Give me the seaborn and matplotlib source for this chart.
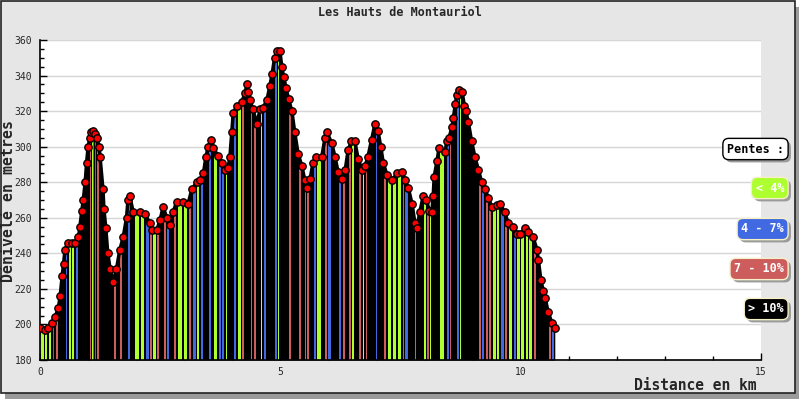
import numpy as np
import pandas as pd
import matplotlib
matplotlib.use('Agg')
import matplotlib.pyplot as plt
import matplotlib.patheffects as pe
from matplotlib.patches import Rectangle
from matplotlib.ticker import MultipleLocator
import seaborn as sns

# profil (km, metres)
distance_km = [
    0.00, 0.10, 0.17, 0.25, 0.31, 0.38, 0.42, 0.46, 0.49, 0.52, 0.58, 0.66, 0.73, 0.80,
    0.83, 0.87, 0.90, 0.94, 0.97, 1.00, 1.04, 1.07, 1.10, 1.14, 1.18, 1.23, 1.25, 1.31,
    1.33, 1.37, 1.41, 1.46, 1.52, 1.59, 1.66, 1.73, 1.80, 1.83, 1.87, 1.94, 2.08, 2.18,
    2.29, 2.33, 2.43, 2.50, 2.56, 2.64, 2.70, 2.77, 2.84, 2.98, 3.08, 3.16, 3.26, 3.33,
    3.40, 3.45, 3.50, 3.56, 3.60, 3.71, 3.78, 3.85, 3.91, 3.95, 3.99, 4.02, 4.10, 4.20,
    4.26, 4.31, 4.33, 4.37, 4.43, 4.51, 4.58, 4.64, 4.72, 4.78, 4.83, 4.88, 4.94, 4.99,
    5.03, 5.07, 5.12, 5.17, 5.24, 5.30, 5.37, 5.45, 5.51, 5.55, 5.62, 5.68, 5.75, 5.86,
    5.93, 5.97, 6.07, 6.14, 6.20, 6.28, 6.35, 6.41, 6.48, 6.55, 6.62, 6.70, 6.76, 6.82,
    6.90, 6.97, 7.03, 7.09, 7.14, 7.22, 7.32, 7.43, 7.53, 7.59, 7.66, 7.74, 7.80, 7.84,
    7.90, 7.97, 8.04, 8.10, 8.15, 8.18, 8.20, 8.26, 8.30, 8.43, 8.46, 8.51, 8.57, 8.60,
    8.64, 8.67, 8.72, 8.78, 8.83, 8.86, 8.91, 8.98, 9.05, 9.12, 9.19, 9.26, 9.33, 9.40,
    9.50, 9.57, 9.67, 9.74, 9.85, 9.92, 9.99, 10.09, 10.16, 10.26, 10.34, 10.37, 10.42,
    10.47, 10.51, 10.57, 10.65, 10.71,
]
elevation_m = [
    198, 197, 198, 201, 204, 209, 216, 227, 234, 242, 246, 246, 246, 249,
    255, 264, 270, 280, 291, 300, 305, 308, 309, 307, 305, 300, 294, 276,
    265, 254, 240, 231, 224, 231, 242, 249, 260, 270, 272, 263, 263, 262,
    257, 253, 253, 259, 266, 260, 256, 263, 269, 269, 268, 276, 280, 281,
    285, 294, 300, 304, 299, 295, 291, 287, 288, 294, 308, 319, 323, 325,
    330, 335, 331, 326, 321, 313, 321, 322, 326, 334, 341, 350, 354, 354,
    345, 339, 333, 327, 320, 308, 296, 289, 281, 277, 282, 291, 294, 294,
    305, 308, 302, 294, 286, 282, 287, 298, 303, 303, 293, 287, 289, 294,
    304, 313, 309, 300, 291, 284, 281, 285, 286, 281, 277, 268, 257, 254,
    263, 272, 270, 264, 263, 272, 283, 292, 299, 297, 303, 305, 311, 316,
    324, 329, 332, 331, 323, 320, 314, 303, 294, 287, 280, 276, 271, 266,
    267, 268, 263, 257, 255, 251, 251, 254, 252, 249, 242, 236, 225,
    219, 215, 207, 201, 198,
]

slope_labels = ['< 4%', '4 - 7%', '7 - 10%', '> 10%']
slope_colors = ['#adff2f', '#4169e1', '#cd5c5c', '#000000']
slope_limits = [4, 7, 10]

df = pd.DataFrame({'km': distance_km, 'alt': elevation_m})
seg = pd.DataFrame({
    'start': df['km'][:-1].values,
    'dx': np.diff(df['km'].values),
    'low': np.minimum(df['alt'][:-1].values, df['alt'][1:].values),
})
seg['pente'] = np.abs(np.diff(df['alt'].values)) / (seg['dx'] * 1000) * 100
seg['classe'] = np.digitize(seg['pente'], slope_limits)

sns.set_style('white')
plt.rcParams['font.family'] = ['DejaVu Sans Mono', 'DejaVu Sans']

fig = plt.figure(figsize=(8, 4), dpi=100, facecolor='white')

# cadre gris avec ombre
fig.add_artist(Rectangle((5 / 800, 1 / 400), 794 / 800, 392 / 400, transform=fig.transFigure,
                         facecolor='#9a9a9a', edgecolor='none', zorder=-3))
fig.add_artist(Rectangle((1 / 800, 7 / 400), 794 / 800, 392 / 400, transform=fig.transFigure,
                         facecolor='#e6e6e6', edgecolor='#222222', linewidth=1.2, zorder=-2))

ax = fig.add_axes([40 / 800, 40 / 400, 721 / 800, 320 / 400])
ax.set_facecolor('white')

ax.fill_between(df['km'], df['alt'], 180, color='black', linewidth=0, zorder=1)
for _, r in seg.iterrows():
    if r['classe'] == 3:
        continue
    ax.bar(r['start'] + r['dx'] * 0.2, r['low'] - 180, bottom=180, width=r['dx'] * 0.6,
           align='edge', color=slope_colors[int(r['classe'])], linewidth=0, zorder=2)

sns.lineplot(data=df, x='km', y='alt', color='black', linewidth=2.5, ax=ax, zorder=3)
sns.scatterplot(data=df, x='km', y='alt', color='red', edgecolor='black', linewidth=1,
                s=28, ax=ax, zorder=4)

ax.set_xlim(0, 15)
ax.set_ylim(180, 360)
ax.xaxis.set_major_locator(MultipleLocator(5))
ax.xaxis.set_minor_locator(MultipleLocator(1))
ax.yaxis.set_major_locator(MultipleLocator(20))
ax.yaxis.set_minor_locator(MultipleLocator(5))
ax.tick_params(which='major', direction='in', length=5, width=1, color='black',
               labelsize=7, bottom=True, left=True)
ax.tick_params(which='minor', direction='in', length=3, width=1, color='black',
               bottom=True, left=True)
ax.tick_params(axis='y', pad=5.5)
ax.tick_params(axis='x', pad=5)
ax.yaxis.grid(True, color='#d6d6d6', linewidth=1)
ax.set_axisbelow(True)
for s in ['top', 'right']:
    ax.spines[s].set_visible(False)
for s in ['left', 'bottom']:
    ax.spines[s].set_color('black')
    ax.spines[s].set_linewidth(1.2)
ax.set_xlabel('')
ax.set_ylabel('')

fig.text(0.5, 1 - 13 / 400, 'Les Hauts de Montauriol', ha='center', va='center',
         fontsize=8.5, fontweight='bold')
fig.text(8.5 / 800, 1 - 201 / 400, 'Dénivelé en metres', rotation=90, ha='center',
         va='center', fontsize=10.7, fontweight='bold')
fig.text(757 / 800, 1 - 386 / 400, 'Distance en km', ha='right', va='center',
         fontsize=10.5, fontweight='bold')

# légende des pentes
legend_y = [149, 188, 229, 269, 309]
items = [('Pentes :', 'white', 'black')] + [
    (lab, col, 'white') for lab, col in zip(slope_labels, slope_colors)]
for (lab, col, tcol), y in zip(items, legend_y):
    edge = 'black' if col == 'white' else '#f5f0c8'
    t = fig.text(784 / 800, 1 - y / 400, lab, ha='right', va='center', fontsize=8.5,
                 fontweight='bold', color=tcol,
                 bbox=dict(boxstyle='round,pad=0.35,rounding_size=0.5', facecolor=col,
                           edgecolor=edge, linewidth=1))
    t.get_bbox_patch().set_path_effects([
        pe.SimplePatchShadow(offset=(2, -2), shadow_rgbFace='#9a9a9a', alpha=1),
        pe.Normal()])

fig.savefig('out.png', dpi=100)
